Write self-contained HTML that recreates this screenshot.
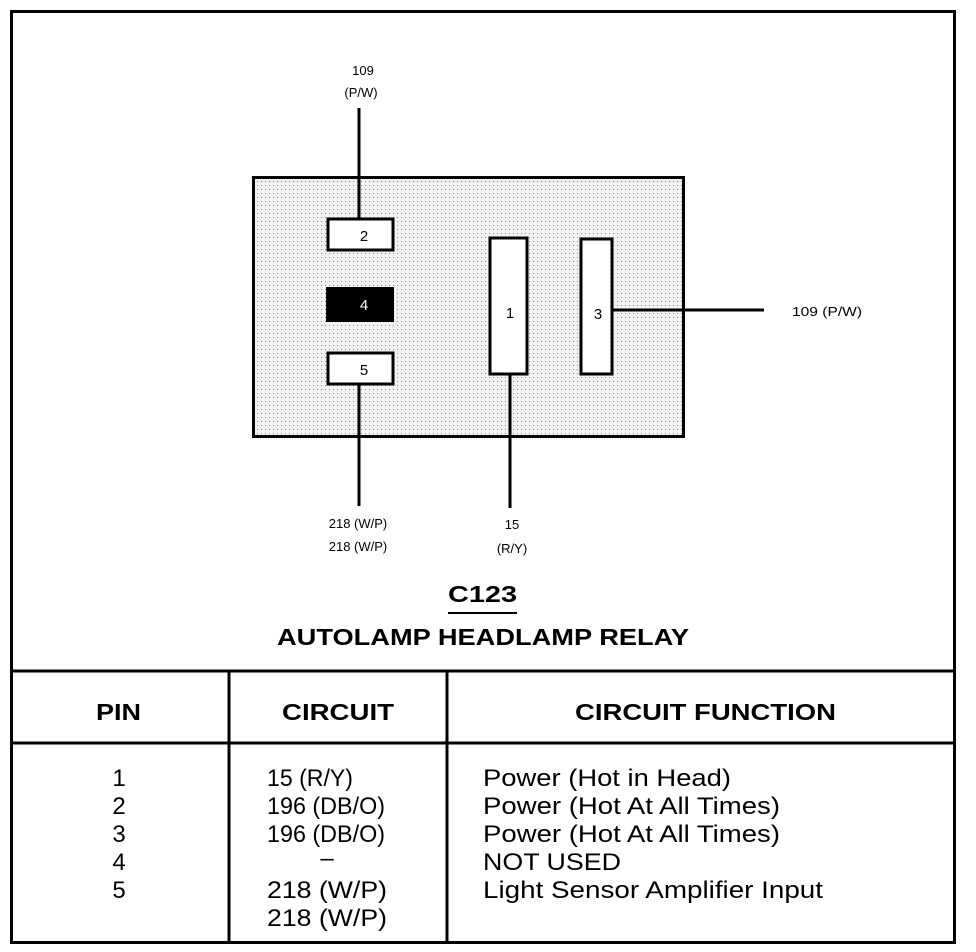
<!DOCTYPE html>
<html><head><meta charset="utf-8"><style>
html,body{margin:0;padding:0;background:#fff;}
svg{display:block;}
text{font-family:"Liberation Sans",Arial,sans-serif;fill:#000;}
</style></head><body>
<svg width="976" height="952" viewBox="0 0 976 952" xmlns="http://www.w3.org/2000/svg">
<defs>
<pattern id="dots" width="4" height="4" patternUnits="userSpaceOnUse">
<rect width="4" height="4" fill="#f2f2f2"/>
<rect x="1" y="1" width="1" height="1" fill="#888"/>
</pattern>
</defs>
<rect x="11.5" y="11.5" width="943" height="931" fill="none" stroke="#000" stroke-width="3"/>
<rect x="253.5" y="177.5" width="430" height="259" fill="url(#dots)" stroke="#000" stroke-width="3"/>
<line x1="359" y1="108" x2="359" y2="219" stroke="#000" stroke-width="3"/>
<line x1="359" y1="385" x2="359" y2="506" stroke="#000" stroke-width="3"/>
<line x1="510" y1="375" x2="510" y2="508" stroke="#000" stroke-width="3"/>
<line x1="613" y1="310" x2="764" y2="310" stroke="#000" stroke-width="3"/>
<rect x="328" y="219" width="65" height="31" fill="#fff" stroke="#000" stroke-width="3"/>
<rect x="326" y="287" width="68" height="35" fill="#000"/>
<rect x="328" y="353" width="65" height="31" fill="#fff" stroke="#000" stroke-width="3"/>
<rect x="490" y="238" width="37" height="136" fill="#fff" stroke="#000" stroke-width="3"/>
<rect x="581" y="239" width="31" height="135" fill="#fff" stroke="#000" stroke-width="3"/>
<g font-size="15" text-anchor="middle">
<text x="364" y="241">2</text>
<text x="364" y="310" style="fill:#fff">4</text>
<text x="364" y="375">5</text>
<text x="510" y="318">1</text>
<text x="598" y="319">3</text>
</g>
<g font-size="13" text-anchor="middle">
<text x="363" y="75">109</text>
<text x="361" y="97">(P/W)</text>
<text x="358" y="528">218 (W/P)</text>
<text x="358" y="551">218 (W/P)</text>
<text x="512" y="529">15</text>
<text x="512" y="553">(R/Y)</text>
<text x="827" y="316" textLength="70" lengthAdjust="spacingAndGlyphs">109 (P/W)</text>
</g>
<text x="448" y="602" font-size="23" font-weight="bold" textLength="69" lengthAdjust="spacingAndGlyphs">C123</text>
<line x1="448" y1="613" x2="517" y2="613" stroke="#000" stroke-width="2"/>
<text x="277" y="645" font-size="23" font-weight="bold" textLength="412" lengthAdjust="spacingAndGlyphs">AUTOLAMP HEADLAMP RELAY</text>
<line x1="11" y1="671" x2="955" y2="671" stroke="#000" stroke-width="3"/>
<line x1="11" y1="743" x2="955" y2="743" stroke="#000" stroke-width="3"/>
<line x1="229" y1="671" x2="229" y2="942" stroke="#000" stroke-width="3"/>
<line x1="447" y1="671" x2="447" y2="942" stroke="#000" stroke-width="3"/>
<g font-size="23" font-weight="bold">
<text x="96" y="720" textLength="45" lengthAdjust="spacingAndGlyphs">PIN</text>
<text x="282" y="720" textLength="112" lengthAdjust="spacingAndGlyphs">CIRCUIT</text>
<text x="575" y="720" textLength="261" lengthAdjust="spacingAndGlyphs">CIRCUIT FUNCTION</text>
</g>
<g font-size="24" text-anchor="middle">
<text x="119" y="786">1</text>
<text x="119" y="814">2</text>
<text x="119" y="842">3</text>
<text x="119" y="870">4</text>
<text x="119" y="898">5</text>
</g>
<g font-size="24">
<text x="267" y="786" textLength="86" lengthAdjust="spacingAndGlyphs">15 (R/Y)</text>
<text x="267" y="814" textLength="118" lengthAdjust="spacingAndGlyphs">196 (DB/O)</text>
<text x="267" y="842" textLength="118" lengthAdjust="spacingAndGlyphs">196 (DB/O)</text>
<text x="327" y="866" text-anchor="middle">–</text>
<text x="267" y="898" textLength="120" lengthAdjust="spacingAndGlyphs">218 (W/P)</text>
<text x="267" y="926" textLength="120" lengthAdjust="spacingAndGlyphs">218 (W/P)</text>
<text x="483" y="786" textLength="248" lengthAdjust="spacingAndGlyphs">Power (Hot in Head)</text>
<text x="483" y="814" textLength="297" lengthAdjust="spacingAndGlyphs">Power (Hot At All Times)</text>
<text x="483" y="842" textLength="297" lengthAdjust="spacingAndGlyphs">Power (Hot At All Times)</text>
<text x="483" y="870" textLength="138" lengthAdjust="spacingAndGlyphs">NOT USED</text>
<text x="483" y="898" textLength="340" lengthAdjust="spacingAndGlyphs">Light Sensor Amplifier Input</text>
</g>
</svg>
</body></html>
